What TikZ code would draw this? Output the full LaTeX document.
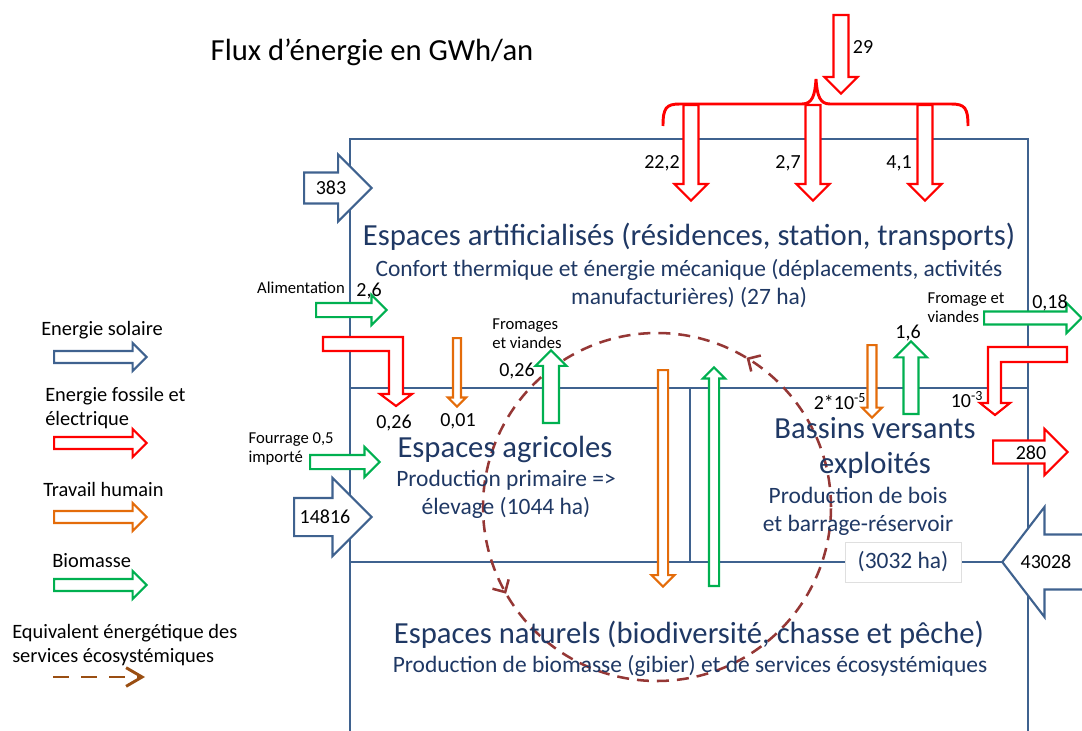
\documentclass[tikz,border=0pt]{standalone}
\usepackage{fontspec}
\setmainfont{Carlito}
\usetikzlibrary{shapes.arrows, arrows.meta, decorations.markings}

\definecolor{solaire}{HTML}{3F628F}
\definecolor{fossile}{HTML}{FF0000}
\definecolor{travail}{HTML}{E46C0A}
\definecolor{biomasse}{HTML}{00B050}
\definecolor{services}{HTML}{9A4E12}
\definecolor{boucle}{HTML}{953735}
\definecolor{texte}{HTML}{1F3864}

\begin{document}
\begin{tikzpicture}[x=0.75pt, y=-0.75pt,
    cadre/.style={draw=solaire, line width=2.2pt},
    fleche/.style n args={3}{single arrow, draw, fill=white, line width=1.6pt,
        inner sep=#2, single arrow head extend=#3,
        minimum height=#1, anchor=tail},
    coude/.style={draw=fossile, fill=white, line width=1.6pt},
    titre/.style={text=texte, font=\fontsize{23}{26.25}\selectfont},
    sous/.style={text=texte, font=\fontsize{17.6}{21}\selectfont, align=center},
    val/.style={font=\fontsize{15}{18}\selectfont, inner sep=1pt},
    petit/.style={font=\fontsize{12.5}{14.5}\selectfont, align=left, inner sep=1pt},
    leg/.style={font=\fontsize{15.3}{18}\selectfont, align=left, anchor=west, inner sep=0pt}]
    \clip (0,0) rectangle (1082,731);

    % Cadre des espaces
    \draw[cadre] (350,731) -- (350,139) -- (1028,139) -- (1028,731);
    \draw[cadre] (350,388) -- (1028,388);
    \draw[cadre] (350,562) -- (1028,562);
    \draw[cadre] (690,388) -- (690,562);

    % Boucle des services ecosystemiques
    \coordinate (centre) at (657,507);
    \draw[boucle, line width=1.9pt, dash pattern=on 9pt off 6pt, postaction={decorate},
        decoration={markings,
          mark=at position 0.164 with {\arrow{Straight Barb[length=7pt, width=14pt]}},
          mark=at position 0.583 with {\arrow{Straight Barb[length=7pt, width=14pt]}}}]
        (centre) ++(0:130.5pt) arc[start angle=0, end angle=360, radius=130.5pt];

    % Legende
    \node[leg] (lsol) at (41,330) {Energie solaire};
    \node[fleche={69.4pt}{3.7pt}{6pt}, draw=solaire] (fsol) at (53,357) {};
    \node[leg] (lfos) at (45,408) {Energie fossile et\\électrique};
    \node[fleche={69.4pt}{3.7pt}{6pt}, draw=fossile] (ffos) at (53,443) {};
    \node[leg] (ltra) at (43,489) {Travail humain};
    \node[fleche={69.4pt}{3.7pt}{6pt}, draw=travail] (ftra) at (53,517) {};
    \node[leg] (lbio) at (52,561) {Biomasse};
    \node[fleche={69.4pt}{3.7pt}{6pt}, draw=biomasse] (fbio) at (53,585) {};
    \node[leg] (lser) at (12,645) {Equivalent énergétique des\\services écosystémiques};
    \coordinate (s1) at (53,677);
    \coordinate (s2) at (145,677);
    \draw[services, line width=2.2pt, dash pattern=on 12pt off 9pt,
        -{Straight Barb[length=12pt, width=14pt]}] (s1) -- (s2);

    % Energie solaire
    \node[fleche={50.6pt}{10.8pt}{13.5pt}, draw=solaire] (f383) at (303,188) {};
    \node[fleche={58.1pt}{13.5pt}{15pt}, draw=solaire] (f14816) at (293,517) {};
    \node[fleche={80pt}{19.8pt}{20.7pt}, draw=solaire, shape border rotate=180,
        single arrow tip angle=105] (f43028) at (1110,562) {};

    % Energie fossile
    \node[fleche={58.9pt}{4.8pt}{6.8pt}, draw=fossile, shape border rotate=270] (f29) at (841,14) {};
    \node[fleche={71.6pt}{4.8pt}{6.8pt}, draw=fossile, shape border rotate=270] (f222) at (691,104) {};
    \node[fleche={71.6pt}{4.8pt}{6.8pt}, draw=fossile, shape border rotate=270] (f27) at (813,104) {};
    \node[fleche={71.6pt}{4.8pt}{6.8pt}, draw=fossile, shape border rotate=270] (f41) at (925,104) {};
    \draw[fossile, line width=2.2pt] (663,126) .. controls (663,108) and (666,104) .. (680,104)
        -- (802,104) .. controls (812,104) and (815,96) .. (816,79)
        .. controls (817,96) and (820,104) .. (830,104)
        -- (951,104) .. controls (965,104) and (968,108) .. (968,126);
    \draw[coude] (323,337) -- (403,337) -- (403,394) -- (412,394) -- (396,406)
        -- (380,394) -- (389,394) -- (389,351) -- (323,351) -- cycle;
    \draw[coude] (1067,347) -- (988,347) -- (988,403) -- (980,403) -- (995,415)
        -- (1010,403) -- (1001,403) -- (1001,362) -- (1067,362) -- cycle;
    \node[fleche={55.9pt}{7.8pt}{8.7pt}, draw=fossile] (f280) at (992,452) {};

    % Biomasse
    \node[fleche={52.9pt}{4.5pt}{6pt}, draw=biomasse] (falim) at (315,310) {};
    \node[fleche={52.1pt}{4.5pt}{6pt}, draw=biomasse] (ffour) at (309,462) {};
    \node[fleche={54.4pt}{5.2pt}{5.6pt}, draw=biomasse, shape border rotate=90] (ffrom) at (551,424) {};
    \node[fleche={163.9pt}{3pt}{4.5pt}, draw=biomasse, shape border rotate=90] (fbois) at (714,587) {};
    \node[fleche={54.4pt}{4.8pt}{6.4pt}, draw=biomasse, shape border rotate=90] (f16) at (911,415) {};
    \node[fleche={73.1pt}{4.1pt}{6.4pt}, draw=biomasse] (f018) at (983,318) {};

    % Travail humain
    \node[fleche={51.4pt}{2.2pt}{3.8pt}, draw=travail, shape border rotate=270] (f001) at (457,337) {};
    \node[fleche={162.4pt}{3pt}{4.8pt}, draw=travail, shape border rotate=270] (ftrav) at (663,369) {};
    \node[fleche={54.4pt}{2.6pt}{4.1pt}, draw=travail, shape border rotate=270] (f2e5) at (872,344) {};

    % Espaces
    \node[font=\fontsize{23}{26.25}\selectfont] (titre) at (372,52) {Flux d’énergie en GWh/an};
    \node[titre] (artif) at (689,237) {Espaces artificialisés (résidences, station, transports)};
    \node[sous] (artifs) at (689,284) {Confort thermique et énergie mécanique (déplacements, activités\\manufacturières) (27 ha)};
    \node[titre] (agri) at (505,449) {Espaces agricoles};
    \node[sous] (agris) at (506,494) {Production primaire =>\\élevage (1044 ha)};
    \node[titre, align=center] (bassin) at (875,448) {Bassins versants\\exploités};
    \node[sous] (bassins) at (858,511) {Production de bois\\et barrage-réservoir};
    \node[sous, draw=gray!25, fill=white, line width=0.6pt, minimum width=87pt,
        minimum height=30pt] (surf) at (903,562) {(3032 ha)};
    \node[titre] (nat) at (689,635) {Espaces naturels (biodiversité, chasse et pêche)};
    \node[sous] (nats) at (690,666) {Production de biomasse (gibier) et de services écosystémiques};

    % Valeurs des flux
    \node[val] (v29) at (863,47) {29};
    \node[val] (v222) at (662,163) {22,2};
    \node[val] (v27) at (788,163) {2,7};
    \node[val] (v41) at (899,163) {4,1};
    \node[val] (v383) at (331,188) {383};
    \node[petit] (alim) at (301,288) {Alimentation};
    \node[val] (v26) at (369,291) {2,6};
    \node[val] (v026a) at (394,423) {0,26};
    \node[val] (v001) at (458,421) {0,01};
    \node[petit, anchor=west] (four) at (247,449) {Fourrage 0,5\\importé};
    \node[val] (v14816) at (325,517) {14816};
    \node[petit] (from) at (527,334) {Fromages\\et viandes};
    \node[val] (v026b) at (517,371) {0,26};
    \node[val] (v2e5) at (840,402) {2*10\textsuperscript{-5}};
    \node[val] (v16) at (908,333) {1,6};
    \node[petit, anchor=west] (from2) at (926,308) {Fromage et\\viandes};
    \node[val] (v018) at (1050,303) {0,18};
    \node[val] (v1e3) at (967,400) {10\textsuperscript{-3}};
    \node[val] (v280) at (1031,453) {280};
    \node[val] (v43028) at (1046,562) {43028};
\end{tikzpicture}
\end{document}
